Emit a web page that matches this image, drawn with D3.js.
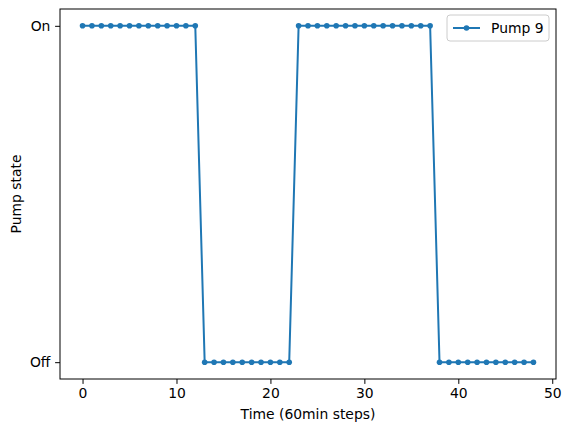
<!DOCTYPE html>
<html>
<head>
<meta charset="utf-8">
<script src="https://cdn.jsdelivr.net/npm/d3@7"></script>
<style>
  body { margin: 0; background: #fff; }
  text { font-family: "DejaVu Sans", sans-serif; }
</style>
</head>
<body>
<div id="chart"></div>
<script>
// Data
const steps = d3.range(0, 49)
const states = [
    1, 1, 1, 1, 1, 1, 1, 1, 1, 1, 1, 1, 1,
    0, 0, 0, 0, 0, 0, 0, 0, 0, 0,
    1, 1, 1, 1, 1, 1, 1, 1, 1, 1, 1, 1, 1, 1, 1,
    0, 0, 0, 0, 0, 0, 0, 0, 0, 0, 0
]
const xTicks = [0, 10, 20, 30, 40, 50]
const yTicks = [0, 1]
const yTickLabels = ['Off', 'On']
const seriesName = 'Pump 9'

const dataset = steps.map((s, i) => ({ t: s, v: states[i] }))

// Dimension
const dimension = {
    width: 571,
    height: 432,
    margin: { top: 9, left: 60, right: 15, bottom: 53 }
}
dimension.ctrwidth = dimension.width - dimension.margin.left - dimension.margin.right
dimension.ctrheight = dimension.height - dimension.margin.top - dimension.margin.bottom

const color = '#1f77b4'
const fontSize = '13.9px'

const svg = d3.select('#chart')
    .append('svg')
    .attr('width', dimension.width)
    .attr('height', dimension.height)

const ctr = svg.append('g')
    .attr('transform', `translate(${dimension.margin.left}, ${dimension.margin.top})`)

// Scales (matplotlib style 5% margins)
const xScale = d3.scaleLinear()
    .domain([-2.4, 50.4])
    .range([0, dimension.ctrwidth])

const yScale = d3.scaleLinear()
    .domain([-0.05, 1.05])
    .range([dimension.ctrheight, 0])

// Line
const line = d3.line()
    .x(d => xScale(d.t))
    .y(d => yScale(d.v))

ctr.append('path')
    .datum(dataset)
    .attr('d', line)
    .attr('fill', 'none')
    .attr('stroke', color)
    .attr('stroke-width', 2)
    .attr('stroke-linejoin', 'round')

ctr.selectAll('circle.pt')
    .data(dataset)
    .join('circle')
    .attr('class', 'pt')
    .attr('cx', d => xScale(d.t))
    .attr('cy', d => yScale(d.v))
    .attr('r', 2.8)
    .attr('fill', color)

// Axes
const xAxis = d3.axisBottom(xScale)
    .tickValues(xTicks)
    .tickSize(4.9)
    .tickPadding(4.7)

ctr.append('g')
    .attr('transform', `translate(0, ${dimension.ctrheight})`)
    .call(xAxis)

const yAxis = d3.axisLeft(yScale)
    .tickValues(yTicks)
    .tickFormat((d, i) => yTickLabels[i])
    .tickSize(4.9)
    .tickPadding(4.7)

ctr.append('g')
    .call(yAxis)

ctr.selectAll('.domain').remove()
ctr.selectAll('.tick line').attr('stroke', '#000').attr('stroke-width', 1)
ctr.selectAll('.tick text')
    .attr('fill', '#000')
    .style('font-size', fontSize)
    .style('font-family', '"DejaVu Sans", sans-serif')

// Frame
ctr.append('rect')
    .attr('x', 0)
    .attr('y', 0)
    .attr('width', dimension.ctrwidth)
    .attr('height', dimension.ctrheight)
    .attr('fill', 'none')
    .attr('stroke', '#000')
    .attr('stroke-width', 1)

// Labels
ctr.append('text')
    .attr('x', dimension.ctrwidth / 2)
    .attr('y', dimension.ctrheight + 40)
    .attr('text-anchor', 'middle')
    .style('font-size', fontSize)
    .text('Time (60min steps)')

ctr.append('text')
    .attr('transform', `translate(${-39}, ${dimension.ctrheight / 2}) rotate(-90)`)
    .attr('text-anchor', 'middle')
    .style('font-size', fontSize)
    .text('Pump state')

// Legend
const legend = ctr.append('g')
    .attr('transform', `translate(${dimension.ctrwidth - 109}, 6)`)

legend.append('rect')
    .attr('width', 102)
    .attr('height', 26)
    .attr('rx', 3)
    .attr('fill', '#fff')
    .attr('fill-opacity', 0.8)
    .attr('stroke', '#ccc')

legend.append('line')
    .attr('x1', 6)
    .attr('x2', 33)
    .attr('y1', 13)
    .attr('y2', 13)
    .attr('stroke', color)
    .attr('stroke-width', 2)

legend.append('circle')
    .attr('cx', 19.5)
    .attr('cy', 13)
    .attr('r', 2.8)
    .attr('fill', color)

legend.append('text')
    .attr('x', 44)
    .attr('y', 17.5)
    .style('font-size', fontSize)
    .text(seriesName)
</script>
</body>
</html>
